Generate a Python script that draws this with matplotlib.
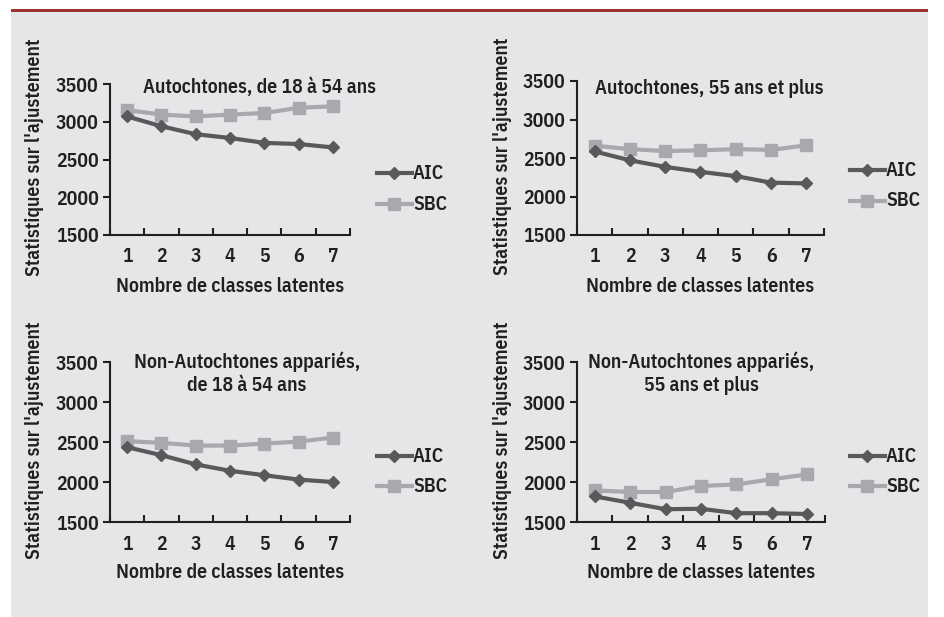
import matplotlib
matplotlib.use("Agg")
import matplotlib.pyplot as plt
from matplotlib.patches import Rectangle

plt.rcParams['font.family'] = ['IBM Plex Sans Condensed', 'DejaVu Sans']
plt.rcParams['font.weight'] = 600

classes = [1, 2, 3, 4, 5, 6, 7]
titles = ["Autochtones, de 18 à 54 ans",
          "Autochtones, 55 ans et plus",
          "Non-Autochtones appariés,\nde 18 à 54 ans",
          "Non-Autochtones appariés,\n55 ans et plus"]
aic_1 = [3070, 2940, 2835, 2785, 2720, 2705, 2660]
sbc_1 = [3155, 3095, 3070, 3095, 3115, 3185, 3205]
aic_2 = [2585, 2470, 2385, 2320, 2265, 2180, 2170]
sbc_2 = [2660, 2615, 2590, 2600, 2615, 2605, 2665]
aic_3 = [2435, 2335, 2220, 2140, 2085, 2030, 2000]
sbc_3 = [2510, 2490, 2455, 2455, 2480, 2505, 2555]
aic_4 = [1820, 1740, 1660, 1665, 1610, 1610, 1600]
sbc_4 = [1895, 1875, 1875, 1950, 1970, 2035, 2095]
yticks = [1500, 2000, 2500, 3000, 3500]

W, H = 945, 617
FS = 14.2
fig = plt.figure(figsize=(W / 100, H / 100), dpi=100)
fig.patch.set_facecolor('white')
fig.add_artist(Rectangle((11 / W, 0), (928 - 11) / W, (H - 12) / H,
                         transform=fig.transFigure, facecolor='#e5e6e7', edgecolor='none', zorder=0))
fig.add_artist(Rectangle((11 / W, (H - 12) / H), (928 - 11) / W, 3 / H,
                         transform=fig.transFigure, facecolor='#9b3530', edgecolor='none', zorder=0))

TXT = '#231f20'
AIC_C = '#58595b'
SBC_C = '#a7a9ac'

# left, right, top, bottom in pixels
boxes = [(110, 350, 84, 235), (577, 824, 81, 235), (110, 350, 362, 522), (577, 825, 362, 522)]
data = [(aic_1, sbc_1), (aic_2, sbc_2), (aic_3, sbc_3), (aic_4, sbc_4)]
title_pos = [(260, 87), (709, 89), (247, 373), (701, 373)]
leg_pos = [(377, 173, 204), (850, 170, 201), (377, 456, 486), (850, 456, 486)]
ylab_x = [35, 502, 35, 502]
xlab_y = [287, 287, 573, 573]

for i, (l, r, t, b) in enumerate(boxes):
    ax = fig.add_axes([l / W, 1 - b / H, (r - l) / W, (b - t) / H])
    ax.set_facecolor('none')
    aic, sbc = data[i]
    ax.plot(classes, sbc, color=SBC_C, lw=3, marker='s', ms=9, mec=SBC_C, mfc=SBC_C, zorder=3)
    ax.plot(classes, aic, color=AIC_C, lw=3, marker='D', ms=6.5, mec=AIC_C, mfc=AIC_C, zorder=4)
    ax.set_xlim(0.5, 7.5)
    ax.set_ylim(1500, 3500)
    ax.set_yticks(yticks)
    ax.set_yticklabels([str(v) for v in yticks], fontsize=FS, color=TXT)
    ax.set_xticks([c - 0.5 for c in classes] + [7.5])
    ax.set_xticklabels([])
    ax.set_xticks(classes, minor=True)
    ax.set_xticklabels([str(c) for c in classes], minor=True, fontsize=FS, color=TXT)
    ax.tick_params(axis='x', which='minor', length=0, pad=9)
    ax.tick_params(axis='x', which='major', length=5, width=1.5, color=TXT, direction='in')
    ax.tick_params(axis='y', length=5, width=1.5, color=TXT, direction='out', pad=3)
    for s in ['top', 'right']:
        ax.spines[s].set_visible(False)
    for s in ['left', 'bottom']:
        ax.spines[s].set_color(TXT)
        ax.spines[s].set_linewidth(1.5)
    tx, ty = title_pos[i]
    fig.text(tx / W, 1 - ty / H, titles[i], ha='center', va='center', fontsize=FS,
             color=TXT, linespacing=1.3)
    fig.text(ylab_x[i] / W, 1 - ((t + b) / 2 - 2) / H, "Statistiques sur l'ajustement",
             rotation=90, ha='center', va='center', fontsize=FS, color=TXT)
    fig.text((l + r) / 2 / W, 1 - xlab_y[i] / H, "Nombre de classes latentes",
             ha='center', va='center', fontsize=FS, color=TXT)
    lx, ya, ys = leg_pos[i]
    for yy, col, mk, ms, lab in [(ya, AIC_C, 'D', 6.5, 'AIC'), (ys, SBC_C, 's', 9, 'SBC')]:
        fig.add_artist(plt.Line2D([lx / W, (lx + 35) / W], [1 - yy / H, 1 - yy / H],
                                  transform=fig.transFigure, color=col, lw=3))
        fig.add_artist(plt.Line2D([(lx + 17.5) / W], [1 - yy / H], transform=fig.transFigure,
                                  color=col, marker=mk, ms=ms, mec=col, mfc=col, lw=0))
        fig.text((lx + 36) / W, 1 - yy / H, lab, ha='left', va='center', fontsize=FS, color=TXT)

fig.savefig('out.png', dpi=100, facecolor='white')
